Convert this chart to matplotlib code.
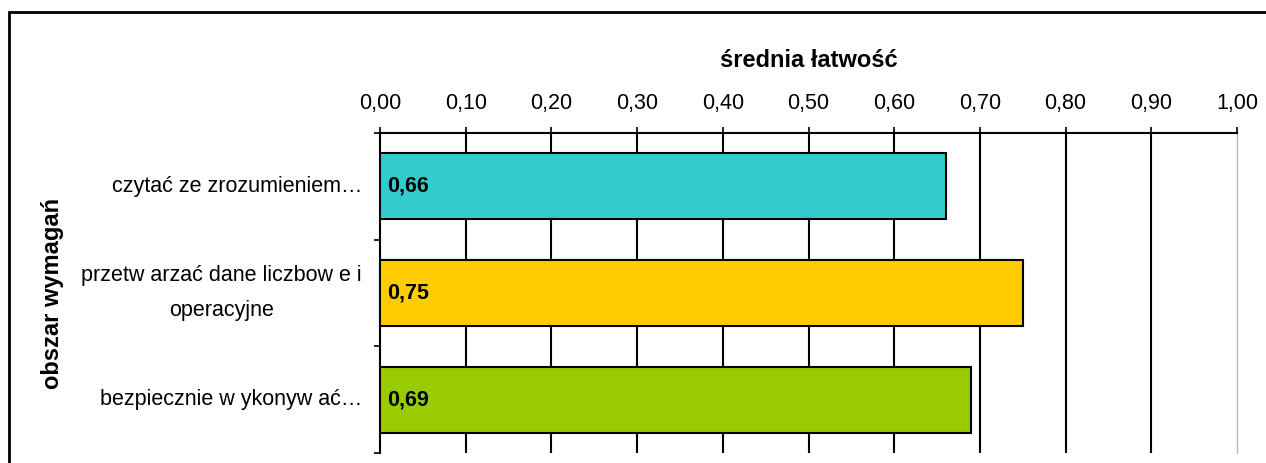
import matplotlib.pyplot as plt
from matplotlib.patches import Rectangle

plt.rcParams['font.family'] = ['Liberation Sans', 'DejaVu Sans']

categories = ['czytać ze zrozumieniem…',
              'przetw arzać dane liczbow e i\noperacyjne',
              'bezpiecznie w ykonyw ać…']
values = [0.66, 0.75, 0.69]
colors = ['#33CCCC', '#FFCC00', '#99CC00']
xticks = [0.0, 0.1, 0.2, 0.3, 0.4, 0.5, 0.6, 0.7, 0.8, 0.9, 1.0]

fig = plt.figure(figsize=(12.66, 4.63), dpi=100)
ax = fig.add_axes([380/1266, 10/463, 857/1266, 320/463])

pos = list(range(len(categories)))
ax.barh(pos, values, height=0.62, color=colors, edgecolor='black', linewidth=1.5, zorder=3)
for p, v in zip(pos, values):
    ax.text(0.008, p, f'{v:.2f}'.replace('.', ','), va='center', ha='left',
            fontsize=15.5, fontweight='bold', zorder=4)

ax.set_xlim(0, 1.0)
ax.set_ylim(2.5, -0.5)

# vertical gridlines
for t in xticks[1:-1]:
    ax.axvline(t, color='black', linewidth=1.5, zorder=1)

ax.xaxis.tick_top()
ax.set_xticks(xticks)
ax.set_xticklabels([f'{t:.2f}'.replace('.', ',') for t in xticks], fontsize=15.5)
ax.tick_params(axis='x', direction='out', length=4.5, width=1.2, pad=9)
ax.xaxis.set_label_position('top')
ax.set_xlabel('średnia łatwość', fontsize=17, fontweight='bold', labelpad=19)

ax.set_yticks([-0.5, 0.5, 1.5, 2.5])
ax.set_yticklabels([])
ax.tick_params(axis='y', which='major', direction='out', length=4.5, width=1.2)
ax.set_yticks(pos, minor=True)
ax.set_yticklabels(categories, minor=True, fontsize=15.5, ha='right', va='center',
                   multialignment='center', linespacing=1.9)
ax.tick_params(axis='y', which='minor', length=0, pad=13)
ax.set_ylabel('obszar wymagań', fontsize=17, fontweight='bold')
ax.yaxis.set_label_coords(-0.369, 0.5)

ax.spines['bottom'].set_visible(False)
ax.spines['left'].set_linewidth(1.5)
ax.spines['top'].set_linewidth(1.5)
ax.spines['right'].set_color('#BBBBBB')
ax.spines['right'].set_linewidth(1.0)

# outer chart frame
fig.patches.append(Rectangle((9/1266, -0.1), 1.2, (463-12)/463 + 0.1,
                             transform=fig.transFigure, fill=False,
                             edgecolor='black', linewidth=2))

fig.savefig('out.png', dpi=100)
